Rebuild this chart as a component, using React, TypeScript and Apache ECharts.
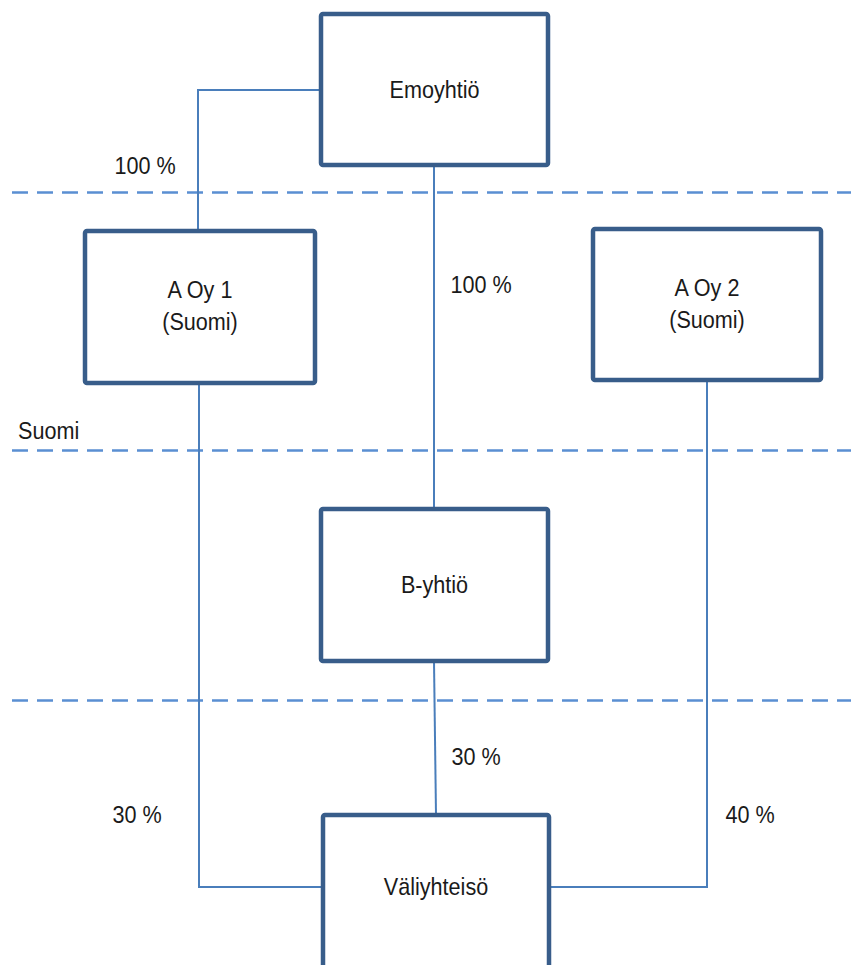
import React, { useEffect, useRef } from "react";
import * as echarts from "echarts";

// Organisation chart data (diagram coordinates in a 851 x 965 space)
const nodeNames = ["Emoyhtiö", "A Oy 1\n(Suomi)", "A Oy 2\n(Suomi)", "B-yhtiö", "Väliyhteisö"];
const nodeLeft = [321, 85, 593, 321, 323];
const nodeTop = [14, 231, 229, 509, 815];
const nodeWidth = [227, 230, 228, 227, 226];
const nodeHeight = [151, 152, 151, 152, 165];

const linkPaths: number[][][] = [
  [[321, 90], [198, 90], [198, 231]],
  [[434, 165], [434, 509]],
  [[199, 383], [199, 887], [323, 887]],
  [[707, 380], [707, 887], [549, 887]],
  [[434, 661], [436, 815]],
];
const linkLabels = ["100 %", "100 %", "30 %", "40 %", "30 %"];
const linkLabelX = [145, 481, 137, 750, 476];
const linkLabelY = [166, 285, 815, 815, 757];

const borderLevels = [192, 450, 700];
const borderStartX = 12;
const borderEndX = 851;
const regionLabels = ["Suomi"];
const regionLabelX = [18];
const regionLabelY = [431];

export default function App() {
  const ref = useRef<HTMLDivElement>(null);
  useEffect(() => {
    if (!ref.current) return;
    const chart = echarts.init(ref.current, undefined, { renderer: "svg" });
    const font = "24px 'Liberation Sans', Arial, sans-serif";
    const sx = 0.9;
    chart.setOption({
      animation: false,
      backgroundColor: "#ffffff",
      grid: { left: 0, right: 0, top: 0, bottom: 0, containLabel: false },
      xAxis: { type: "value", min: 0, max: 851, show: false },
      yAxis: { type: "value", min: 0, max: 965, inverse: true, show: false },
      series: [
        {
          type: "lines",
          coordinateSystem: "cartesian2d",
          polyline: false,
          silent: true,
          z: 1,
          lineStyle: { color: "#5a8fd2", width: 2.5, opacity: 1, type: [16, 9] },
          data: borderLevels.map((y) => ({ coords: [[borderStartX, y], [borderEndX, y]] })),
        },
        {
          type: "lines",
          coordinateSystem: "cartesian2d",
          polyline: true,
          silent: true,
          z: 2,
          lineStyle: { color: "#4a7ebb", width: 2, opacity: 1 },
          data: linkPaths.map((p) => ({ coords: p })),
        },
        {
          type: "custom",
          coordinateSystem: "cartesian2d",
          silent: true,
          z: 3,
          clip: false,
          data: nodeNames.map((_, i) => [nodeLeft[i], nodeTop[i], nodeWidth[i], nodeHeight[i]]),
          renderItem: (params: any, api: any) => {
            const i = params.dataIndex;
            const p0 = api.coord([api.value(0), api.value(1)]);
            const p1 = api.coord([api.value(0) + api.value(2), api.value(1) + api.value(3)]);
            const multi = nodeNames[i].includes("\n");
            return {
              type: "group",
              children: [
                {
                  type: "rect",
                  shape: { x: p0[0], y: p0[1], width: p1[0] - p0[0], height: p1[1] - p0[1], r: 2 },
                  style: { fill: "#ffffff", stroke: "#385d8a", lineWidth: 4.5, lineJoin: "round" },
                },
                {
                  type: "text",
                  x: (p0[0] + p1[0]) / 2,
                  y: i === 4 ? api.coord([0, 887])[1] : (p0[1] + p1[1]) / 2 + (multi ? -1 : 0),
                  scaleX: sx,
                  style: {
                    text: nodeNames[i],
                    font,
                    fill: "#1a1a1a",
                    align: "center",
                    verticalAlign: "middle",
                    lineHeight: 32,
                  },
                },
              ],
            };
          },
        },
        {
          type: "custom",
          coordinateSystem: "cartesian2d",
          silent: true,
          z: 4,
          data: linkLabels.map((_, i) => [linkLabelX[i], linkLabelY[i]]),
          renderItem: (params: any, api: any) => {
            const p = api.coord([api.value(0), api.value(1)]);
            return {
              type: "text",
              x: p[0],
              y: p[1],
              scaleX: sx,
              style: {
                text: linkLabels[params.dataIndex],
                font,
                fill: "#1a1a1a",
                align: "center",
                verticalAlign: "middle",
              },
            };
          },
        },
        {
          type: "custom",
          coordinateSystem: "cartesian2d",
          silent: true,
          z: 4,
          data: regionLabels.map((_, i) => [regionLabelX[i], regionLabelY[i]]),
          renderItem: (params: any, api: any) => {
            const p = api.coord([api.value(0), api.value(1)]);
            return {
              type: "text",
              x: p[0],
              y: p[1],
              scaleX: sx,
              style: {
                text: regionLabels[params.dataIndex],
                font,
                fill: "#1a1a1a",
                align: "left",
                verticalAlign: "middle",
              },
            };
          },
        },
      ],
    });
    return () => chart.dispose();
  }, []);
  return (
    <div
      ref={ref}
      style={{ position: "absolute", left: 0, top: 0, width: 851, height: 965, background: "#fff" }}
    />
  );
}
